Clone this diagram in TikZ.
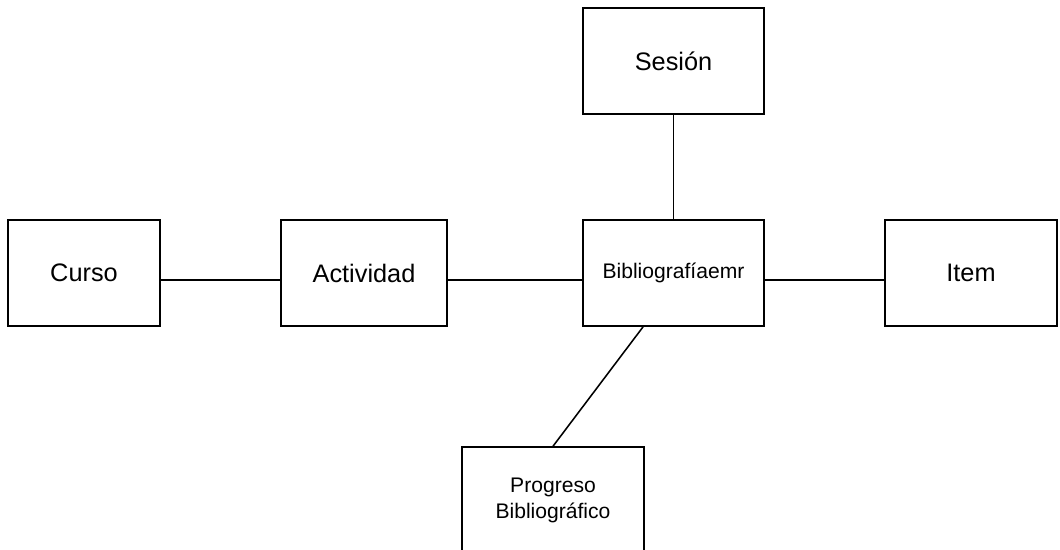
\documentclass[tikz,border=0pt]{standalone}
\usepackage{fontspec}
\setmainfont{Liberation Sans}
\usepackage{tikz}
\usetikzlibrary{positioning}

\tikzset{
  entity/.style={draw, line width=1.1pt, minimum height=2.65cm, align=center, inner sep=0pt},
  bigtext/.style={font=\fontsize{18}{22}\selectfont},
  smalltext/.style={font=\fontsize{15}{18.5}\selectfont},
  link/.style={line width=1.1pt}
}

\begin{document}
\begin{tikzpicture}[x=0.025cm, y=-0.025cm]
  \useasboundingbox (0,0) rectangle (1060,549);
  \clip (0,0) rectangle (1060,549);

  % entities
  \node[entity, bigtext, minimum width=3.8cm] (curso) at (84, 273) {Curso};
  \node[entity, bigtext, minimum width=4.15cm] (actividad) at (364, 273) {Actividad};
  \node[entity, smalltext, minimum width=4.525cm] (biblio) at (673.5, 273) {Bibliografíaemr};
  \node[entity, bigtext, minimum width=4.525cm] (sesion) at (673.5, 61) {Sesión};
  \node[entity, bigtext, minimum width=4.3cm] (item) at (971, 273) {Item};
  \node[entity, smalltext, minimum width=4.55cm] (progreso) at (553, 500) {Progreso\\Bibliográfico};

  % relations
  \draw[link] ([yshift=-0.175cm]curso.east) -- ([yshift=-0.175cm]actividad.west);
  \draw[link] ([yshift=-0.175cm]actividad.east) -- ([yshift=-0.175cm]biblio.west);
  \draw[link] ([yshift=-0.175cm]biblio.east) -- ([yshift=-0.175cm]item.west);
  \draw[link] (sesion.south) -- (biblio.north);
  \draw[link] ([xshift=-0.76cm]biblio.south) -- (progreso.north);
\end{tikzpicture}
\end{document}
